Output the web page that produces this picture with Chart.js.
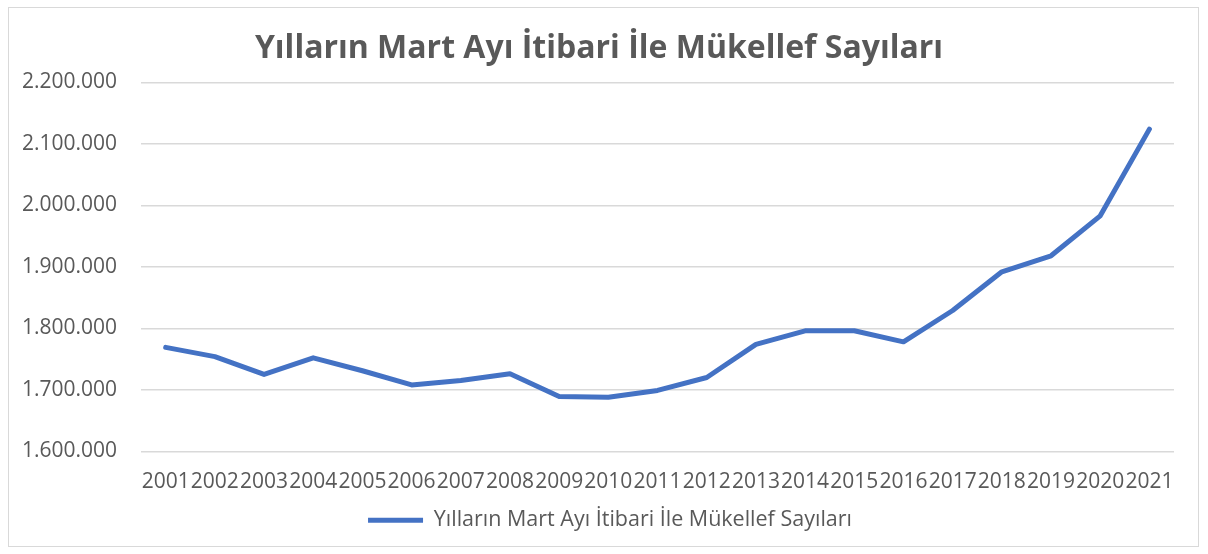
<!DOCTYPE html>
<html>
<head>
<meta charset="utf-8">
<script src="https://cdn.jsdelivr.net/npm/chart.js@4/dist/chart.umd.min.js"></script>
<style>
  body { margin: 0; background: #fff; }
  .frame {
    position: absolute; left: 8px; top: 7px; width: 1191px; height: 540px;
    border: 1px solid #d9d9d9; box-sizing: border-box;
  }
  .wrap { position: absolute; left: 0; top: 0; width: 1208px; height: 554px; }
</style>
</head>
<body>
<div class="frame"></div>
<div class="wrap"><canvas id="chart" width="1208" height="554"></canvas></div>
<script>
const years = ["2001", "2002", "2003", "2004", "2005", "2006", "2007", "2008", "2009", "2010",
  "2011", "2012", "2013", "2014", "2015", "2016", "2017", "2018", "2019", "2020", "2021"];
const taxpayers = [1769000, 1754000, 1725000, 1752000, 1731000, 1708000, 1715000, 1726000, 1689000, 1688000,
  1699000, 1720000, 1774000, 1796000, 1796000, 1778000, 1829000, 1892000, 1918000, 1983000, 2124000];
const seriesLabel = "Yılların Mart Ayı İtibari İle Mükellef Sayıları";
const titleText = "Yılların Mart Ayı İtibari İle Mükellef Sayıları";

const BLUE = "#4472C4";
const TEXT = "#595959";
const FONT = "'Open Sans', sans-serif";

const formatNumber = (n) => String(n).replace(/\B(?=(\d{3})+(?!\d))/g, ".");

// title and legend sit a bit right of the plot centre in the original
const shiftBlocks = {
  id: "shiftBlocks",
  afterLayout(chart) {
    chart.titleBlock.left += 13;
    chart.titleBlock.right += 13;
    chart.legend.left += 24;
    chart.legend.right += 24;
  },
};

new Chart(document.querySelector("#chart"), {
  type: "line",
  data: {
    labels: years,
    datasets: [
      {
        label: seriesLabel,
        data: taxpayers,
        borderColor: BLUE,
        backgroundColor: BLUE,
        borderWidth: 5,
        borderCapStyle: "round",
        borderJoinStyle: "round",
        pointRadius: 0,
        tension: 0,
      },
    ],
  },
  options: {
    responsive: false,
    animation: false,
    devicePixelRatio: 1,
    layout: { padding: { left: -2, right: 34, top: 26, bottom: 13 } },
    plugins: {
      title: {
        display: true,
        text: titleText,
        color: TEXT,
        font: { family: FONT, size: 32, weight: "bold" },
        padding: { top: 4, bottom: 14 },
      },
      legend: {
        position: "bottom",
        labels: {
          usePointStyle: true,
          pointStyle: "line",
          pointStyleWidth: 55,
          color: TEXT,
          font: { family: FONT, size: 21.5 },
          padding: 5,
        },
      },
      tooltip: { enabled: false },
    },
    scales: {
      x: {
        offset: true,
        grid: { display: false },
        border: { display: false },
        ticks: {
          autoSkip: false,
          maxRotation: 0,
          color: TEXT,
          font: { family: FONT, size: 21 },
          padding: 10,
        },
      },
      y: {
        min: 1600000,
        max: 2200000,
        grid: { color: "#d9d9d9", lineWidth: 1.5, drawTicks: false },
        border: { display: false },
        ticks: {
          stepSize: 100000,
          color: TEXT,
          font: { family: FONT, size: 21 },
          padding: 24,
          callback: (v) => formatNumber(v),
        },
      },
    },
  },
  plugins: [shiftBlocks],
});
</script>
</body>
</html>
